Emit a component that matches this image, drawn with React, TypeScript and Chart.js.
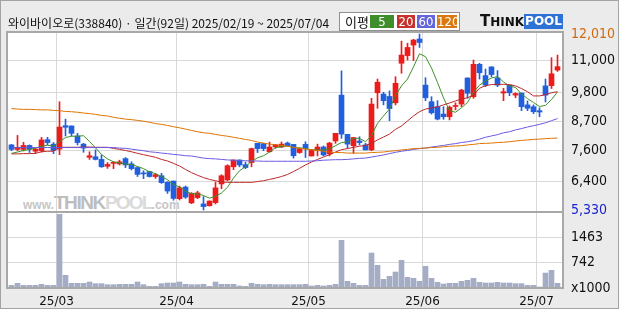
import React, { useEffect, useRef } from 'react';
import { Chart, registerables } from 'chart.js';

Chart.register(...registerables);

// ---- daily candles (92 trading days, 2025/02/19 ~ 2025/07/04) ----
const opens = [7800, 7630, 7630, 7780, 7560, 7580, 8000, 7830, 7640, 8530,
  8520, 8140, 7830, 7330, 7350, 7250, 6990, 7100, 7080, 7280,
  7080, 6940, 6710, 6790, 6600, 6630, 6380, 6430, 5760, 6200,
  5600, 5800, 5560, 5490, 5610, 6320, 6470, 6970, 7230, 7050,
  7130, 7860, 7850, 7540, 7730, 7720, 7870, 7820, 7510, 7820,
  7380, 7580, 7720, 7460, 7950, 9690, 8200, 7770, 7950, 7800,
  7610, 9780, 9730, 9640, 9400, 10900, 11190, 11590, 11820, 10070,
  9440, 9250, 8970, 8870, 9260, 9350, 10340, 9630, 10860, 10430,
  10760, 10340, 9770, 10070, 9690, 9770, 9320, 9250, 9100, 10040,
  10050, 10640];
const highs = [7820, 8160, 7900, 7800, 7680, 8090, 8090, 7890, 9440, 8780,
  8520, 8240, 7860, 7540, 7610, 7420, 7130, 7160, 7220, 7320,
  7160, 6970, 6820, 6800, 6720, 6720, 6410, 6430, 6240, 6240,
  5990, 6040, 5840, 5680, 6390, 6670, 7050, 7230, 7230, 7150,
  7680, 7860, 7860, 7910, 7820, 7910, 7910, 7820, 7680, 7920,
  7630, 7830, 7760, 7900, 8240, 10610, 8200, 8090, 8110, 7860,
  9570, 10300, 9800, 9850, 10390, 11740, 11660, 11810, 12010, 10350,
  9630, 9480, 9250, 9280, 9400, 9910, 10350, 11020, 10900, 10680,
  10770, 10620, 9950, 10070, 9780, 9770, 9470, 9320, 9210, 10300,
  11110, 11210];
const lows = [7580, 7580, 7570, 7510, 7470, 7530, 7800, 7470, 7430, 8140,
  8140, 7800, 7520, 7250, 7230, 6950, 6910, 6900, 7040, 6940,
  6850, 6600, 6520, 6580, 6530, 6340, 5960, 5700, 5710, 5770,
  5570, 5760, 5330, 5480, 5560, 6140, 6430, 6860, 6970, 6900,
  6970, 7510, 7580, 7530, 7670, 7700, 7750, 7300, 7480, 7320,
  7380, 7380, 7380, 7380, 7860, 8050, 7670, 7480, 7800, 7610,
  7580, 9190, 9320, 8720, 9320, 10520, 11020, 11000, 11500, 9480,
  8970, 8750, 8770, 8750, 9130, 9250, 9570, 9570, 10300, 10010,
  10380, 10010, 9480, 9670, 9590, 9100, 9100, 8990, 8870, 9430,
  9940, 10590];
const closes = [7630, 7700, 7780, 7640, 7640, 7990, 7890, 7590, 8480, 8470,
  8240, 7890, 7680, 7390, 7250, 6970, 7060, 7140, 7160, 7040,
  6900, 6680, 6700, 6600, 6670, 6370, 6050, 5770, 6170, 5820,
  5960, 5980, 5460, 5670, 6170, 6630, 7010, 7230, 7040, 6940,
  7660, 7660, 7660, 7720, 7800, 7830, 7770, 7390, 7660, 7670,
  7590, 7720, 7420, 7870, 8240, 8210, 7830, 8080, 7890, 7610,
  9350, 10180, 9480, 9180, 10140, 11210, 11500, 11780, 11690, 9590,
  9020, 8780, 8870, 9230, 9290, 9880, 9760, 10860, 10540, 10070,
  10470, 10070, 9820, 9780, 9750, 9250, 9190, 9060, 9050, 9690,
  10500, 10770];

// ---- moving averages ----
const ma5 = [7480, 7530, 7590, 7630, 7680, 7750, 7790, 7750, 7920, 8080,
  8130, 8130, 8150, 7930, 7690, 7440, 7270, 7160, 7120, 7070,
  7060, 6980, 6900, 6780, 6710, 6600, 6480, 6290, 6210, 6040,
  5950, 5940, 5880, 5780, 5850, 5980, 6190, 6540, 6820, 6970,
  7180, 7310, 7390, 7530, 7700, 7730, 7760, 7700, 7690, 7660,
  7620, 7610, 7610, 7650, 7770, 7890, 7910, 8050, 8050, 7920,
  8150, 8620, 8900, 9160, 9670, 10040, 10300, 10760, 11260, 11150,
  10720, 10170, 9590, 9100, 9040, 9210, 9410, 9800, 10070, 10220,
  10340, 10400, 10190, 10040, 9980, 9730, 9560, 9410, 9260, 9300,
  9520, 9810];
const ma20 = [7460, 7460, 7470, 7470, 7480, 7540, 7560, 7560, 7710, 7710,
  7710, 7710, 7720, 7720, 7710, 7710, 7710, 7670, 7630, 7590,
  7540, 7480, 7430, 7380, 7330, 7250, 7190, 7100, 7000, 6870,
  6750, 6650, 6560, 6490, 6440, 6390, 6380, 6380, 6380, 6380,
  6380, 6410, 6440, 6490, 6540, 6600, 6680, 6790, 6910, 7040,
  7150, 7250, 7340, 7430, 7530, 7620, 7660, 7710, 7750, 7780,
  7860, 7990, 8100, 8210, 8390, 8520, 8710, 8900, 9060, 9160,
  9200, 9240, 9320, 9390, 9470, 9540, 9590, 9690, 9950, 10050,
  10090, 10100, 10100, 10090, 10040, 9940, 9820, 9660, 9660, 9710,
  9780, 9820];
const ma60 = [7700, 7700, 7700, 7700, 7700, 7700, 7700, 7700, 7700, 7700,
  7700, 7700, 7700, 7700, 7700, 7700, 7700, 7700, 7680, 7670,
  7640, 7610, 7580, 7540, 7520, 7490, 7470, 7440, 7420, 7390,
  7380, 7340, 7300, 7280, 7270, 7250, 7230, 7220, 7200, 7200,
  7190, 7190, 7180, 7180, 7180, 7180, 7180, 7180, 7180, 7180,
  7190, 7200, 7220, 7230, 7240, 7240, 7250, 7270, 7290, 7300,
  7340, 7380, 7420, 7470, 7520, 7560, 7590, 7630, 7660, 7680,
  7720, 7750, 7780, 7820, 7850, 7890, 7920, 7960, 8020, 8090,
  8140, 8190, 8260, 8300, 8370, 8420, 8480, 8530, 8580, 8640,
  8720, 8800];
const ma120 = [9180, 9160, 9150, 9150, 9140, 9130, 9130, 9110, 9100, 9070,
  9060, 9040, 9010, 8990, 8960, 8920, 8900, 8850, 8810, 8780,
  8760, 8730, 8700, 8660, 8610, 8580, 8540, 8490, 8450, 8400,
  8350, 8300, 8260, 8240, 8200, 8160, 8130, 8090, 8050, 8010,
  7970, 7910, 7870, 7830, 7810, 7780, 7750, 7710, 7670, 7640,
  7620, 7590, 7560, 7530, 7510, 7510, 7490, 7490, 7490, 7490,
  7510, 7520, 7530, 7560, 7580, 7610, 7630, 7660, 7670, 7680,
  7700, 7710, 7730, 7750, 7760, 7770, 7800, 7820, 7850, 7860,
  7870, 7890, 7900, 7920, 7950, 7970, 7990, 8010, 8020, 8040,
  8050, 8060];

// ---- volume (x1000 shares) ----
const volumes = [77, 135, 77, 77, 77, 106, 77, 77, 2124, 365,
  135, 135, 135, 173, 125, 125, 96, 96, 106, 106,
  106, 173, 96, 48, 48, 125, 144, 144, 173, 106,
  96, 96, 106, 48, 173, 106, 106, 106, 58, 48,
  135, 106, 96, 106, 96, 96, 96, 96, 96, 106,
  58, 77, 58, 77, 106, 1374, 192, 135, 77, 77,
  1009, 653, 250, 336, 461, 798, 308, 279, 192, 625,
  279, 163, 115, 135, 135, 192, 221, 279, 163, 144,
  144, 163, 144, 144, 125, 125, 77, 77, 29, 432,
  509, 135];

// ---- axis labels ----
const monthStartIndex = [8, 28, 50, 69, 88];
const monthLabels = ['25/03', '25/04', '25/05', '25/06', '25/07'];
const priceGridValues = [11000, 9800, 8700, 7600, 6400];
const priceMax = 12010;
const priceMin = 5330;
const volumeGridValues = [1463, 742];
const volumeUnitLabel = 'x1000';

const RED = '#ee1b1b';
const BLUE = '#1f5fe0';
const VOL = '#a4acc6';
const GRID = '#d9d9d9';
const FRAME = '#a8a8a8';
const C_MA5 = '#3f9128';
const C_MA20 = '#b9292b';
const C_MA60 = '#6a5ade';
const C_MA120 = '#db7405';
const NARROW = '"Liberation Sans Narrow", "DejaVu Sans Condensed", "Arial Narrow", sans-serif';

const fmt = (v: number) => v.toLocaleString('en-US');

const framePlugin = {
  id: 'panelFrame',
  afterDraw(chart: any) {
    const { ctx, chartArea } = chart;
    const { left, top, right, bottom } = chartArea;
    const sep = chart.scales.v.top;
    ctx.save();
    ctx.strokeStyle = FRAME;
    ctx.lineWidth = 2;
    ctx.beginPath();
    ctx.rect(left, top, right - left, bottom - top);
    ctx.moveTo(left, sep);
    ctx.lineTo(right, sep);
    ctx.stroke();
    ctx.restore();
  },
};

export default function App() {
  const ref = useRef<HTMLCanvasElement>(null);

  useEffect(() => {
    const idx = closes.map((_, i) => i);
    const colors = idx.map((i) => (closes[i] >= opens[i] ? RED : BLUE));
    const line = (arr: number[], color: string) => ({
      type: 'line' as const,
      data: idx.map((i) => ({ x: i, y: arr[i] })),
      borderColor: color,
      borderWidth: 1,
      pointRadius: 0,
      tension: 0,
      yAxisID: 'y',
      order: 0,
    });
    const priceTicks = [priceMax, ...priceGridValues, priceMin];
    const volTicks = [...volumeGridValues, 0];

    const chart = new Chart(ref.current as HTMLCanvasElement, {
      type: 'bar',
      data: {
        datasets: [
          line(ma120, C_MA120),
          line(ma60, C_MA60),
          line(ma20, C_MA20),
          line(ma5, C_MA5),
          {
            type: 'bar',
            data: idx.map((i) => ({ x: i, y: [lows[i], highs[i]] })) as any,
            backgroundColor: colors,
            barThickness: 1,
            maxBarThickness: 1,
            grouped: false,
            yAxisID: 'y',
            order: 2,
          },
          {
            type: 'bar',
            data: idx.map((i) => ({ x: i, y: [opens[i], closes[i]] })) as any,
            backgroundColor: colors,
            barThickness: 5,
            maxBarThickness: 5,
            minBarLength: 1,
            grouped: false,
            yAxisID: 'y',
            order: 1,
          },
          {
            type: 'bar',
            data: idx.map((i) => ({ x: i, y: volumes[i] })) as any,
            backgroundColor: VOL,
            barThickness: 5,
            maxBarThickness: 5,
            grouped: false,
            yAxisID: 'v',
            order: 3,
          },
        ] as any,
      },
      options: {
        responsive: false,
        maintainAspectRatio: false,
        animation: false,
        devicePixelRatio: 1,
        events: [],
        layout: { padding: { left: 7, top: 32, right: 0, bottom: 0 } },
        plugins: { legend: { display: false }, tooltip: { enabled: false } },
        scales: {
          x: {
            type: 'linear',
            position: 'bottom',
            min: -0.75,
            max: 91.9167,
            bounds: 'data',
            offset: false,
            afterBuildTicks: (s: any) => {
              s.ticks = monthStartIndex.map((i) => ({ value: i - 0.5 }));
            },
            afterFit: (s: any) => {
              s.height = 22;
            },
            ticks: {
              autoSkip: false,
              maxRotation: 0,
              padding: 7,
              color: '#111',
              font: { family: '"DejaVu Sans", sans-serif', size: 12 },
              callback: (_v: any, i: number) => monthLabels[i],
            },
            grid: { color: GRID, drawTicks: false, offset: false },
            border: { display: false },
          },
          y: {
            type: 'linear',
            position: 'right',
            stack: 'panels',
            stackWeight: 180,
            min: 5254,
            max: 12086,
            bounds: 'data',
            afterBuildTicks: (s: any) => {
              s.ticks = priceTicks.map((v) => ({ value: v }));
            },
            afterFit: (s: any) => {
              s.width = 57;
            },
            ticks: {
              autoSkip: false,
              padding: 8,
              font: { family: NARROW, size: 14 },
              color: (c: any) =>
                c.tick && c.tick.value === priceMax ? '#d2690a' : c.tick && c.tick.value === priceMin ? '#1c23cf' : '#111',
              callback: (v: any) => fmt(Number(v)),
            },
            grid: {
              drawTicks: false,
              color: (c: any) =>
                c.tick && (c.tick.value === priceMax || c.tick.value === priceMin) ? 'rgba(0,0,0,0)' : GRID,
            },
            border: { display: false },
          },
          v: {
            type: 'linear',
            position: 'right',
            stack: 'panels',
            stackWeight: 76,
            min: 0,
            max: 2192,
            bounds: 'data',
            afterBuildTicks: (s: any) => {
              s.ticks = volTicks.map((v) => ({ value: v }));
            },
            afterFit: (s: any) => {
              s.width = 57;
            },
            ticks: {
              autoSkip: false,
              padding: 8,
              font: { family: NARROW, size: 14 },
              color: '#111',
              callback: (v: any) => (Number(v) === 0 ? volumeUnitLabel : String(v)),
            },
            grid: {
              drawTicks: false,
              color: (c: any) => (c.tick && c.tick.value === 0 ? 'rgba(0,0,0,0)' : GRID),
            },
            border: { display: false },
          },
        },
      } as any,
      plugins: [framePlugin],
    });
    return () => chart.destroy();
  }, []);

  const legendItems = [
    { label: '5', color: '#3e8e2c', left: 30, width: 24 },
    { label: '20', color: '#c7332c', left: 57, width: 18 },
    { label: '60', color: '#6464dc', left: 77, width: 18 },
    { label: '120', color: '#dc7810', left: 97, width: 20 },
  ];

  return (
    <div style={{ position: 'absolute', left: 0, top: 0, width: 620, height: 310, background: '#fff', overflow: 'hidden' }}>
      <div
        style={{
          position: 'absolute', left: 0, top: 0, width: 619, height: 309, boxSizing: 'border-box',
          border: '1px solid #a3a3a3', background: '#ebebeb',
        }}
      />
      <div style={{ position: 'absolute', left: 7, top: 32, width: 556, height: 256, background: '#fff' }} />
      <div
        style={{
          position: 'absolute', left: 23, top: 193, whiteSpace: 'nowrap', lineHeight: '20px',
          fontFamily: '"Liberation Sans", Arial, sans-serif', display: 'flex', alignItems: 'baseline',
          fontWeight: 'bold',
        }}
      >
        <span style={{ fontSize: 12, color: '#c6c6c6' }}>www.</span>
        <span style={{ fontSize: 19, color: '#bdbdbd', letterSpacing: -1.4 }}>THINK</span>
        <span style={{ fontSize: 19, color: '#dadada', letterSpacing: -1.8 }}>POOL</span>
        <span style={{ fontSize: 12, color: '#c6c6c6' }}>.com</span>
      </div>
      <canvas ref={ref} width={620} height={310} style={{ position: 'absolute', left: 0, top: 0, display: 'block' }} />
      <div
        style={{
          position: 'absolute', left: 8, top: 16, fontSize: 12, lineHeight: '14px', color: '#111',
          fontFamily: '"Noto Sans CJK KR", sans-serif', whiteSpace: 'nowrap',
        }}
      >
        와이바이오로(338840) · 일간(92일) 2025/02/19 ~ 2025/07/04
      </div>
      <div
        style={{
          position: 'absolute', left: 339, top: 12, width: 121, height: 19, boxSizing: 'border-box',
          border: '1px solid #8f8f8f', background: '#fff',
        }}
      >
        <div
          style={{
            position: 'absolute', left: 5, top: 1, fontSize: 13, lineHeight: '15px', color: '#111',
            fontFamily: '"Noto Sans CJK KR", sans-serif',
          }}
        >
          이평
        </div>
        {legendItems.map((it) => (
          <div
            key={it.label}
            style={{
              position: 'absolute', left: it.left, top: 2, width: it.width, height: 13, background: it.color,
              color: '#fff', fontSize: 13, lineHeight: '13px', textAlign: 'center',
              fontFamily: NARROW,
            }}
          >
            {it.label}
          </div>
        ))}
      </div>
      <div
        style={{
          position: 'absolute', left: 480, top: 14, height: 15, display: 'flex', alignItems: 'flex-end',
          fontFamily: '"DejaVu Sans", sans-serif', fontWeight: 'bold', whiteSpace: 'nowrap',
        }}
      >
        <span style={{ fontSize: 15, lineHeight: '15px', color: '#111' }}>T</span>
        <span style={{ fontSize: 12, lineHeight: '13px', color: '#111' }}>HINK</span>
        <span
          style={{
            fontSize: 12, lineHeight: '15px', color: '#fff', background: '#2f72d6', padding: '0 1px',
          }}
        >
          POOL
        </span>
      </div>
    </div>
  );
}
